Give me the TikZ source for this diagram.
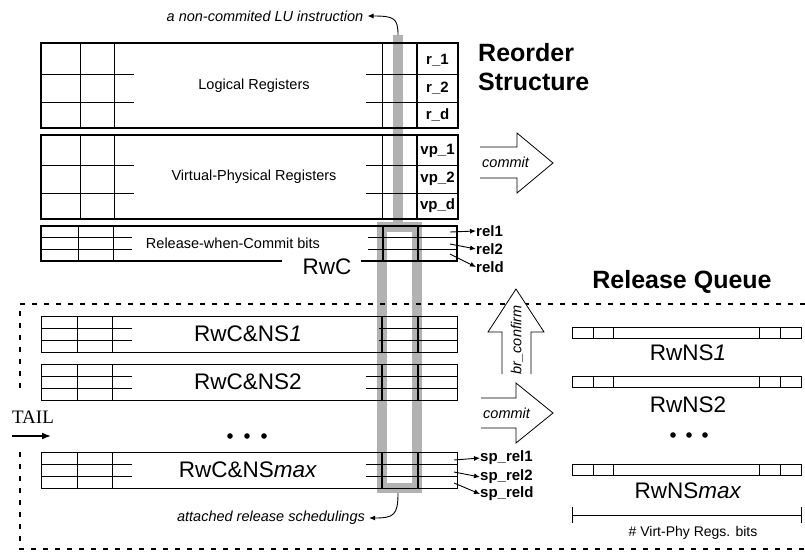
\documentclass[tikz,border=0pt]{standalone}
\usepackage{fontspec}
\setmainfont{Liberation Sans}
\newfontfamily\tailfont{Liberation Serif}
\usetikzlibrary{arrows.meta}
\begin{document}
\begin{tikzpicture}[x=1pt,y=-1pt,
  outer/.style={line width=1.8pt},
  inner/.style={line width=1.0pt},
  thinb/.style={line width=0.8pt},
  grayband/.style={draw=black!30,line width=10pt},
  dashline/.style={line width=2.2pt,dash pattern=on 5pt off 7pt},
  bigarrow/.style={draw,fill=white,line width=0.8pt},
  lbl/.style={font=\fontsize{15}{17}\selectfont\bfseries,inner sep=0pt},
  mid/.style={font=\fontsize{14.5}{16}\selectfont,inner sep=0pt},
  note/.style={font=\fontsize{14.5}{16}\selectfont\itshape,inner sep=0pt},
  big/.style={font=\fontsize{22.5}{24}\selectfont,inner sep=0pt},
  title/.style={font=\fontsize{25}{29}\selectfont\bfseries,inner sep=0pt,align=left},
  ptr/.style={line width=0.9pt,-{Latex[length=6pt,width=5pt]}}
]
\useasboundingbox (0,0) rectangle (805,555);

% gray highlight
\draw[grayband] (398,35) -- (398,227);
\draw[grayband] (382,227) rectangle (417,488);

% Logical and Virtual-Physical register boxes
\foreach \t/\b/\ra/\rb in {43/128/74/102, 135/219/165/193} {
  \draw[inner] (80,\t) -- (80,\b) (114,\t) -- (114,\b) (382,\t) -- (382,\b)
    (41,\ra) -- (134,\ra) (41,\rb) -- (134,\rb)
    (366,\ra) -- (458,\ra) (366,\rb) -- (458,\rb);
  \draw[outer] (41,\t) rectangle (458,\b) (417,\t) -- (417,\b);
}
\node[mid] (lr) at (254,86) {Logical Registers};
\node[mid] (vpr) at (254,177) {Virtual-Physical Registers};
\node[lbl] (r1) at (437.5,60) {r\_1};
\node[lbl] (r2) at (437.5,88) {r\_2};
\node[lbl] (rd) at (437.5,115) {r\_d};
\node[lbl] (vp1) at (437.5,151) {vp\_1};
\node[lbl] (vp2) at (437.5,179) {vp\_2};
\node[lbl] (vpd) at (437.5,206) {vp\_d};

% Release-when-Commit box
\draw[inner] (78,226) -- (78,261) (113,226) -- (113,261)
  (41,237) -- (132,237) (41,249) -- (132,249)
  (368,237) -- (457,237) (368,249) -- (457,249);
\draw[outer] (383,226) -- (383,261) (418,226) -- (418,261);
\draw[outer] (282,261) -- (41,261) -- (41,226) -- (457,226) -- (457,261) -- (361,261);
\node[mid] (rwcb) at (233,243) {Release-when-Commit bits};
\node[big] (rwc) at (327,267) {RwC};

\coordinate (s1) at (450,232);
\coordinate (s2) at (450,244);
\coordinate (s3) at (450,254);
\node[lbl,anchor=west] (rel1) at (476,231) {rel1};
\node[lbl,anchor=west] (rel2) at (476,249) {rel2};
\node[lbl,anchor=west] (reld) at (476,267) {reld};
\draw[ptr] (s1) -- (rel1.west);
\draw[ptr] (s2) -- (rel2.west);
\draw[ptr] (s3) -- (reld.west);

% notes
\node[note] (lu) at (265,16) {a non-commited LU instruction};
\coordinate (gtop) at (398,35);
\draw[ptr] (gtop) .. controls (398,18) and (394,16) .. ([xshift=4pt]lu.east);
\node[note] (ars) at (271,518) {attached release schedulings};
\coordinate (gbot) at (398,493);
\draw[ptr] (gbot) .. controls (398,515) and (394,518) .. ([xshift=4pt]ars.east);

\node[title,anchor=west] (ro) at (478,67) {Reorder\\Structure};

% commit arrow (top)
\draw[bigarrow] (480,147) -- (517,147) -- (517,133) -- (553,163) -- (517,193) -- (517,178) -- (480,178);
\node[note,anchor=west] (c1) at (482,162) {commit};

% Release queue region
\draw[dashline] (805,304) -- (20,304) -- (20,392);
\draw[dashline] (20,452) -- (20,549) -- (805,549);

% br_confirm arrow
\draw[bigarrow] (502,374) -- (502,332) -- (488,332) -- (516,289) -- (544,332) -- (531,332) -- (531,374);
\node[note,rotate=90] (bc) at (517,340) {br\_confirm};

% commit arrow (bottom)
\draw[bigarrow] (481,398) -- (516,398) -- (516,383) -- (553,413) -- (516,443) -- (516,428) -- (481,428);
\node[note,anchor=west] (c2) at (483,413) {commit};

% RwC&NS boxes
\foreach \t/\rl in {316/379, 364/366, 452/366} {
  \draw[inner] (77,\t) -- (77,\t+36) (112,\t) -- (112,\t+36)
    (41,\t+12) -- (132,\t+12) (41,\t+24) -- (132,\t+24)
    (\rl,\t+12) -- (457,\t+12) (\rl,\t+24) -- (457,\t+24);
  \draw[line width=1.2pt] (382,\t) -- (382,\t+36) (418,\t) -- (418,\t+36);
  \draw[thinb] (41,\t) rectangle (457,\t+36);
}
\node[big] (ns1) at (248,334) {RwC\&NS\textit{1}};
\node[big] (ns2) at (248,382) {RwC\&NS2};
\node[big] (nsm) at (248,470) {RwC\&NS\textit{max}};
\fill (230,436) circle (2.8) (247,436) circle (2.8) (264,436) circle (2.8);

\coordinate (t1) at (454,460);
\coordinate (t2) at (454,472);
\coordinate (t3) at (454,483);
\node[lbl,anchor=west] (sp1) at (480,458) {sp\_rel1};
\node[lbl,anchor=west] (sp2) at (480,477) {sp\_rel2};
\node[lbl,anchor=west] (spd) at (480,494) {sp\_reld};
\draw[ptr] (t1) -- (sp1.west);
\draw[ptr] (t2) -- (sp2.west);
\draw[ptr] (t3) -- (spd.west);

% TAIL
\node[inner sep=0pt,font=\tailfont\fontsize{19}{21}\selectfont] (tail) at (33,417) {TAIL};
\coordinate (ta) at (12,436);
\coordinate (tb) at (51,436);
\draw[line width=1.6pt,-{Latex[length=9pt,width=7pt]}] (ta) -- (tb);

% Release Queue
\node[title] (rq) at (682,282) {Release Queue};
\foreach \t in {327,376,464} {
  \draw[thinb] (572,\t) rectangle (801,\t+11)
    (593,\t) -- (593,\t+11) (613,\t) -- (613,\t+11)
    (759,\t) -- (759,\t+11) (780,\t) -- (780,\t+11);
}
\node[big] (q1) at (688,353) {RwNS\textit{1}};
\node[big] (q2) at (688,405) {RwNS2};
\node[big] (qm) at (688,491) {RwNS\textit{max}};
\fill (673,435) circle (2.8) (689,435) circle (2.8) (705,435) circle (2.8);

\coordinate (d1) at (572,515);
\coordinate (d2) at (801,515);
\draw[thinb] (d1) -- (d2) (572,507) -- (572,523) (801,507) -- (801,523);
\node[mid,font=\fontsize{14}{15}\selectfont] (vpb) at (693,533) {\# Virt-Phy Regs. bits};
\end{tikzpicture}
\end{document}
